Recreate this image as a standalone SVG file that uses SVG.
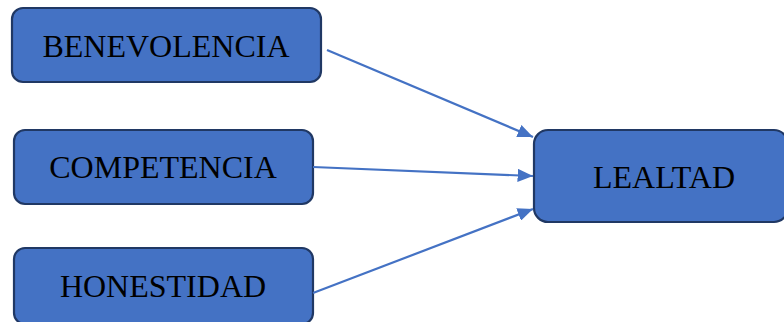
<svg xmlns="http://www.w3.org/2000/svg" width="784" height="322" viewBox="0 0 784 322">
<style>
.box{fill:#4472C4;stroke:#203864;stroke-width:2.2}
.lbl{font-family:"Liberation Serif","Times New Roman",serif;font-size:32px;fill:#000;text-anchor:middle}
.con{stroke:#4472C4;stroke-width:2.2;fill:none;marker-end:url(#ah)}
</style>
<defs>
<marker id="ah" viewBox="0 0 10 10" refX="10" refY="5" markerWidth="7" markerHeight="6" orient="auto" markerUnits="strokeWidth" preserveAspectRatio="none">
<path d="M0,0 L10,5 L0,10 z" fill="#4472C4"/>
</marker>
</defs>
<rect width="784" height="322" fill="#fff"/>
<g id="benevolencia"><rect class="box" x="12" y="8" width="309" height="74" rx="11"/><text class="lbl" x="166" y="57">BENEVOLENCIA</text></g>
<g id="competencia"><rect class="box" x="14" y="130" width="299" height="74" rx="11"/><text class="lbl" x="163" y="178">COMPETENCIA</text></g>
<g id="honestidad"><rect class="box" x="14" y="248" width="299" height="76" rx="11"/><text class="lbl" x="163" y="297">HONESTIDAD</text></g>
<g id="lealtad"><rect class="box" x="534" y="130" width="254" height="92" rx="14"/><text class="lbl" x="664" y="188">LEALTAD</text></g>
<g id="connectors">
<line class="con" x1="327" y1="50" x2="533" y2="137"/>
<line class="con" x1="313" y1="167" x2="533" y2="176"/>
<line class="con" x1="313" y1="293" x2="533" y2="209"/>
</g>
</svg>
